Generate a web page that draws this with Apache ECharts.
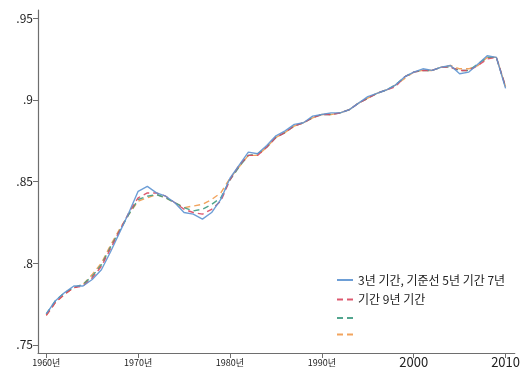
<!DOCTYPE html>
<html>
<head>
<meta charset="utf-8">
<script src="https://cdn.jsdelivr.net/npm/echarts@6/dist/echarts.min.js"></script>
<style>
  html, body { margin: 0; padding: 0; background: #fff; }
  #chart { width: 523px; height: 374px; }
</style>
</head>
<body>
<div id="chart"></div>
<script>
// Years covered by every series
const years = [];
for (let y = 1960; y <= 2010; y++) years.push(y);

// Estimated share by year for each window length
const seriesA = [0.769,0.777,0.782,0.786,0.786,0.790,0.796,0.807,0.819,0.831,
                 0.844,0.847,0.843,0.841,0.837,0.831,0.830,0.827,0.831,0.839,
                 0.852,0.860,0.868,0.867,0.872,0.878,0.881,0.885,0.886,0.890,
                 0.891,0.892,0.892,0.894,0.898,0.902,0.904,0.906,0.909,0.914,
                 0.917,0.919,0.918,0.920,0.921,0.916,0.917,0.922,0.927,0.926,0.907];
const seriesB = [0.768,0.776,0.781,0.785,0.786,0.791,0.798,0.809,0.820,0.831,
                 0.840,0.843,0.843,0.841,0.837,0.833,0.831,0.830,0.833,0.838,
                 0.851,0.860,0.866,0.866,0.871,0.877,0.880,0.884,0.886,0.889,
                 0.891,0.891,0.892,0.894,0.898,0.901,0.904,0.906,0.908,0.914,
                 0.917,0.918,0.918,0.920,0.920,0.918,0.918,0.921,0.925,0.926,0.908];
const seriesC = [0.769,0.777,0.782,0.785,0.787,0.792,0.799,0.810,0.820,0.830,
                 0.839,0.841,0.842,0.840,0.837,0.834,0.832,0.833,0.836,0.840,
                 0.851,0.859,0.866,0.867,0.871,0.877,0.880,0.884,0.886,0.889,
                 0.891,0.891,0.892,0.894,0.898,0.901,0.904,0.906,0.909,0.914,
                 0.917,0.918,0.918,0.920,0.920,0.918,0.918,0.922,0.926,0.926,0.908];
const seriesD = [0.768,0.776,0.781,0.785,0.787,0.793,0.800,0.811,0.821,0.830,
                 0.838,0.840,0.842,0.840,0.837,0.834,0.835,0.836,0.839,0.843,
                 0.852,0.859,0.866,0.866,0.871,0.877,0.880,0.884,0.886,0.889,
                 0.891,0.891,0.892,0.894,0.898,0.901,0.904,0.906,0.909,0.913,
                 0.917,0.918,0.918,0.920,0.921,0.919,0.919,0.921,0.926,0.926,0.908];

// Axis ticks and labels
const xTicks = [1960, 1970, 1980, 1990, 2000, 2010];
const xTickLabels = ['1960년', '1970년', '1980년', '1990년', '2000', '2010'];
const yTicks = [0.75, 0.8, 0.85, 0.9, 0.95];
const yTickLabels = ['.75', '.8', '.85', '.9', '.95'];

// Legend texts (the last two entries carry no label)
const legendNames = ['3년 기간, 기준선 5년 기간 7년', '기간 9년 기간', '\u200b', '\u200b\u200b'];
const colors = ['#5d93d1', '#d9475f', '#3f9b82', '#f19a4c'];
const values = [seriesA, seriesB, seriesC, seriesD];

const chart = echarts.init(document.getElementById('chart'), null, { renderer: 'canvas' });

const series = values.map((vals, i) => ({
  name: legendNames[i],
  type: 'line',
  data: years.map((y, k) => [y, vals[k]]),
  showSymbol: false,
  symbol: 'none',
  z: 10 - i,
  lineStyle: {
    color: colors[i],
    width: 1.4,
    type: i === 0 ? 'solid' : [6, 4],
    opacity: 0.9
  },
  itemStyle: { color: colors[i] },
  animation: false
}));

const font = '"Noto Sans CJK KR", "Noto Sans", sans-serif';

chart.setOption({
  animation: false,
  backgroundColor: '#fff',
  color: colors,
  grid: { left: 38, top: 10, width: 485, height: 343, containLabel: false },
  xAxis: {
    type: 'value',
    min: 1959.1,
    max: 2011,
    splitLine: { show: false },
    axisLine: { show: true, onZero: false, lineStyle: { color: '#6e6e6e', width: 1.2 } },
    axisTick: { show: true, length: 5, lineStyle: { color: '#6e6e6e' }, customValues: xTicks },
    axisLabel: {
      customValues: xTicks,
      margin: 3,
      fontFamily: font,
      color: '#222',
      formatter: v => {
        const s = xTickLabels[xTicks.indexOf(Math.round(v))];
        return s.endsWith('년') ? '{s|' + s + '}' : '{b|' + s + '}';
      },
      rich: {
        s: { fontSize: 9, fontFamily: font, color: '#222', padding: [2, 0, 0, 0] },
        b: { fontSize: 13, fontFamily: font, color: '#222' }
      }
    }
  },
  yAxis: {
    type: 'value',
    min: 0.745,
    max: 0.955,
    splitLine: { show: false },
    axisLine: { show: true, lineStyle: { color: '#6e6e6e', width: 1.2 } },
    axisTick: { show: true, length: 5, lineStyle: { color: '#6e6e6e' }, customValues: yTicks },
    axisLabel: {
      customValues: yTicks,
      margin: 5,
      fontSize: 12,
      fontFamily: font,
      color: '#222',
      formatter: v => yTickLabels[yTicks.findIndex(t => Math.abs(t - v) < 1e-6)]
    }
  },
  legend: {
    orient: 'vertical',
    left: 331,
    top: 269,
    itemWidth: 16,
    itemHeight: 10,
    itemGap: 7.5,
    data: legendNames,
    itemStyle: { opacity: 0 },
    textStyle: { fontSize: 12, fontFamily: font, color: '#222' },
    formatter: n => n.replace(/\u200b/g, '')
  },
  series
});
</script>
</body>
</html>
